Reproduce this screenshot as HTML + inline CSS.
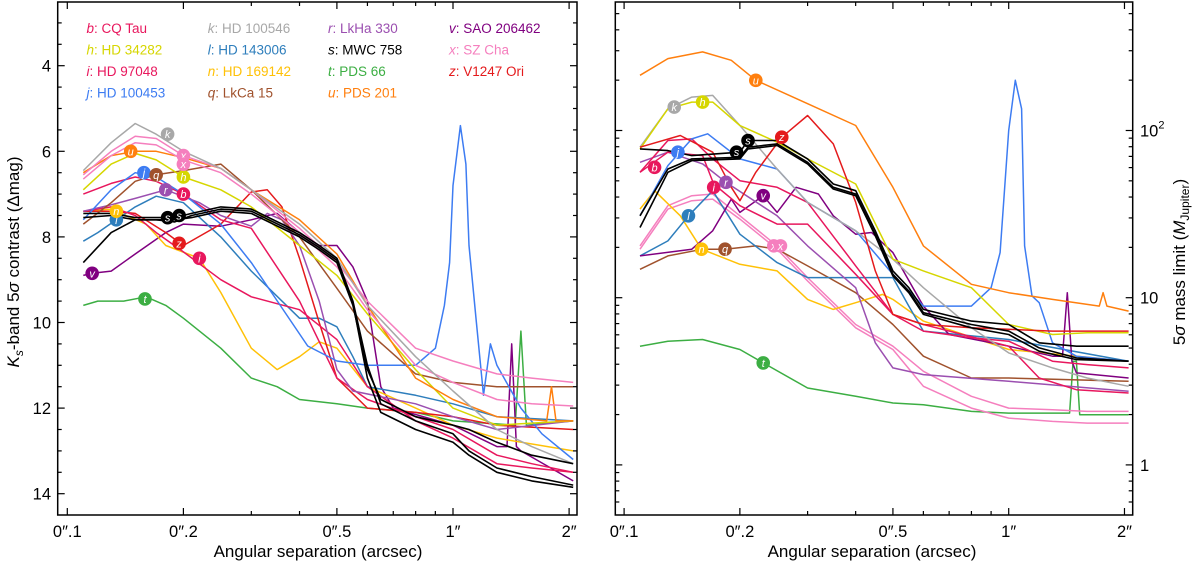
<!DOCTYPE html>
<html><head><meta charset="utf-8">
<style>
html,body{margin:0;padding:0;background:#fff;}
svg{display:block;font-family:"Liberation Sans","DejaVu Sans",sans-serif;}
</style></head>
<body>
<svg id="chart" width="1200" height="565" viewBox="0 0 1200 565" xmlns="http://www.w3.org/2000/svg">
<defs>
<clipPath id="clipL"><rect x="57.7" y="2" width="519.3" height="513"/></clipPath>
<clipPath id="clipR"><rect x="615.3" y="2" width="517.4" height="513"/></clipPath>
</defs>
<g id="left"></g>
<g id="right"></g>
</svg>
<script>
// ---------- Left panel data (Ks-band contrast, mag) ----------
const sepStd=[0.11,0.13,0.15,0.17,0.2,0.25,0.3,0.4,0.5,0.6,0.8,1.0,1.3,1.6,2.05];
const magK=[6.45,5.8,5.35,5.6,6.0,6.4,6.9,7.7,8.5,9.6,10.8,11.6,12.5,12.9,13.3];
const magX1=[6.55,6.0,5.65,5.7,6.1,6.4,6.9,7.8,8.6,9.5,10.6,10.9,11.2,11.3,11.4];
const magX2=[6.65,6.1,5.8,5.85,6.2,6.5,7.0,7.9,8.7,9.7,11.0,11.4,11.8,11.9,11.95];
const sepU=[0.11,0.13,0.15,0.17,0.2,0.25,0.3,0.4,0.5,0.6,0.8,1.0,1.3,1.75,1.8,1.85,2.05];
const magU=[6.5,6.1,6.0,6.0,6.15,6.4,6.9,7.6,8.4,9.6,11.3,11.8,12.2,12.3,11.5,12.3,12.3];
const magH=[6.9,6.3,6.05,6.2,6.6,6.9,7.3,8.2,8.9,9.8,11.1,12.0,12.4,12.35,12.3];
const sepJ=[0.11,0.13,0.15,0.17,0.2,0.25,0.3,0.42,0.5,0.6,0.8,0.9,0.95,0.98,1.0,1.045,1.08,1.1,1.15,1.2,1.25,1.3,1.5,1.7,2.05];
const magJ=[7.6,6.9,6.5,6.6,7.0,7.7,8.6,10.55,10.9,11.0,11.0,10.6,9.6,8.6,6.8,5.4,6.3,8.2,10.0,11.7,10.5,11.0,12.0,12.6,13.2];
const magQ=[7.7,7.2,6.7,6.55,6.45,6.3,6.9,8.0,9.2,10.2,11.2,11.4,11.5,11.5,11.5];
const sepR=[0.11,0.13,0.15,0.18,0.22,0.25,0.3,0.33,0.36,0.4,0.45,0.5,0.55,0.8,1.0,1.3,2.05];
const magR=[7.4,7.25,7.1,6.9,7.2,7.5,7.75,7.45,7.6,8.2,9.5,11.1,11.6,11.9,12.2,12.5,12.3];
const magB=[7.0,6.75,6.6,6.7,7.0,7.6,7.8,9.5,11.3,11.8,12.2,12.5,13.1,13.3,13.5];
const magI=[7.4,7.3,7.5,7.9,8.35,9.0,9.4,9.7,10.4,11.5,12.3,12.7,13.3,13.4,13.5];
const sepZ=[0.11,0.13,0.15,0.18,0.2,0.25,0.3,0.33,0.36,0.4,0.45,0.5,0.6,0.8,1.0,1.3,2.05];
const magZ=[7.4,7.4,7.45,7.9,8.2,7.7,6.95,6.9,7.3,8.5,10.0,11.3,12.0,12.1,12.2,12.4,12.5];
const sepS=[0.11,0.13,0.15,0.17,0.19,0.21,0.25,0.3,0.4,0.45,0.5,0.55,0.6,0.65,0.8,1.0,1.1,1.3,1.6,2.05];
const magS1=[7.45,7.45,7.55,7.55,7.55,7.45,7.3,7.35,7.9,8.2,8.5,9.5,11.0,11.9,12.3,12.6,13.0,13.4,13.6,13.8];
const magS2=[7.55,7.5,7.6,7.6,7.6,7.55,7.4,7.45,8.0,8.3,8.6,9.6,11.1,11.8,12.2,12.4,12.5,12.8,13.1,13.3];
const magS3=[8.6,7.9,7.6,7.6,7.65,7.5,7.35,7.4,7.95,8.25,8.55,9.55,11.3,12.1,12.5,12.8,13.1,13.5,13.7,13.85];
const sepL=[0.11,0.12,0.134,0.15,0.17,0.2,0.25,0.3,0.4,0.45,0.5,0.55,0.6,0.8,1.0,1.3,2.05];
const magL=[8.1,7.9,7.6,7.3,7.05,7.2,8.0,8.8,9.9,9.9,10.1,10.8,11.5,11.7,11.9,12.2,12.3];
const sepN=[0.11,0.13,0.16,0.18,0.22,0.25,0.3,0.35,0.4,0.45,0.5,0.6,0.8,1.0,1.3,2.05];
const magN=[7.4,7.35,7.7,8.2,8.5,9.3,10.6,11.1,10.8,10.45,10.6,11.5,12.0,12.4,12.7,13.0];
const sepV=[0.11,0.116,0.13,0.15,0.18,0.2,0.25,0.3,0.35,0.4,0.45,0.5,0.55,0.6,0.65,0.7,1.0,1.3,1.38,1.42,1.46,1.5,2.05];
const magV=[8.9,8.85,8.8,8.4,7.9,7.7,7.75,7.6,7.45,7.9,8.2,8.2,8.7,9.5,11.5,12.0,12.4,12.9,12.9,10.5,12.9,13.0,13.7];
const sepT=[0.11,0.12,0.14,0.16,0.18,0.2,0.25,0.3,0.35,0.4,0.5,0.6,0.8,1.0,1.45,1.5,1.55,2.05];
const magT=[9.6,9.5,9.5,9.4,9.6,9.9,10.6,11.3,11.5,11.8,11.9,12.0,12.1,12.3,12.4,10.2,12.4,12.3];
const labLetters=["b","h","i","j","k","l","n","q","r","s","s","t","u","v","x","x","z"];
const labSepL=[0.2,0.2,0.22,0.158,0.182,0.134,0.134,0.17,0.18,0.182,0.195,0.159,0.146,0.116,0.2,0.2,0.195];
const labMagL=[7.0,6.6,8.5,6.5,5.6,7.6,7.4,6.55,6.9,7.55,7.5,9.45,6.0,8.85,6.1,6.3,8.15];

// ---------- Right panel data (log10 mass limit, M_Jup) ----------
const rsepU=[0.11,0.13,0.16,0.19,0.22,0.3,0.4,0.5,0.6,0.8,1.0,1.3,1.72,1.76,1.8,2.05];
const lmU=[2.33,2.43,2.47,2.42,2.30,2.16,2.03,1.66,1.31,1.08,1.03,0.99,0.95,1.03,0.95,0.92];
const lmK=[1.90,2.13,2.20,2.21,2.03,1.77,1.57,1.40,1.23,1.06,0.82,0.67,0.58,0.52,0.47];
const lmH=[1.89,2.13,2.17,2.17,2.03,1.93,1.83,1.68,1.23,1.16,1.06,0.84,0.78,0.79,0.79];
const rsepJ=[0.11,0.13,0.15,0.165,0.2,0.25,0.3,0.4,0.5,0.6,0.8,0.9,0.95,1.0,1.04,1.08,1.1,1.15,1.2,1.3,1.5,2.05];
const lmJ=[1.49,1.79,1.95,1.98,1.83,1.77,1.57,1.40,1.14,0.95,0.95,1.06,1.27,2.00,2.30,2.13,1.31,1.01,0.97,0.73,0.65,0.62];
const rsepZ=[0.11,0.14,0.17,0.19,0.2,0.22,0.257,0.3,0.35,0.4,0.45,0.5,0.6,0.8,1.3,2.05];
const lmZ=[1.90,1.97,1.87,1.66,1.58,1.75,1.96,2.09,1.92,1.57,1.16,0.90,0.84,0.82,0.80,0.80];
const rsepS=[0.11,0.13,0.15,0.2,0.21,0.25,0.3,0.35,0.4,0.45,0.5,0.55,0.6,0.8,1.0,1.2,1.5,2.05];
const lmS1=[1.89,1.88,1.85,1.87,1.94,1.94,1.83,1.68,1.64,1.40,1.16,1.06,0.93,0.86,0.84,0.73,0.71,0.71];
const lmS2=[1.49,1.77,1.83,1.84,1.90,1.92,1.81,1.66,1.62,1.38,1.14,1.04,0.91,0.84,0.80,0.70,0.64,0.62];
const lmS3=[1.42,1.75,1.82,1.83,1.89,1.91,1.80,1.65,1.61,1.37,1.13,1.03,0.90,0.82,0.78,0.68,0.63,0.62];
const lmB=[1.75,1.94,1.95,1.83,1.70,1.66,1.57,1.19,0.90,0.80,0.76,0.74,0.62,0.60,0.58];
const rsepI=[0.11,0.13,0.16,0.171,0.2,0.25,0.3,0.4,0.5,0.6,1.0,1.2,1.5,2.05];
const lmI=[1.75,1.87,1.85,1.68,1.55,1.44,1.44,1.14,0.90,0.84,0.71,0.52,0.45,0.43];
const rsepR=[0.11,0.13,0.16,0.184,0.25,0.3,0.4,0.45,0.5,0.6,1.0,2.05];
const lmR=[1.81,1.87,1.80,1.69,1.49,1.31,1.06,0.73,0.58,0.54,0.50,0.44];
const rsepV=[0.11,0.15,0.17,0.19,0.2,0.23,0.25,0.28,0.32,0.35,0.4,0.44,0.5,0.6,0.7,1.0,1.3,1.38,1.42,1.46,1.5,2.05];
const lmV=[1.25,1.29,1.40,1.59,1.51,1.61,1.51,1.66,1.62,1.49,1.38,1.39,1.27,0.95,0.78,0.71,0.65,0.65,1.03,0.62,0.55,0.52];
const rsepL=[0.11,0.13,0.147,0.17,0.2,0.25,0.3,0.4,0.5,0.55,0.6,1.0,2.05];
const lmL=[1.25,1.34,1.49,1.64,1.38,1.21,1.12,1.12,1.12,0.95,0.80,0.75,0.62];
const lmX1=[1.31,1.55,1.61,1.62,1.49,1.31,1.12,0.84,0.71,0.56,0.41,0.34,0.33,0.32,0.32];
const lmX2=[1.29,1.53,1.58,1.59,1.47,1.29,1.10,0.82,0.69,0.47,0.34,0.28,0.26,0.25,0.25];
const rsepN=[0.11,0.12,0.14,0.159,0.2,0.25,0.3,0.35,0.4,0.47,0.5,0.6,1.0,2.05];
const lmN=[1.53,1.64,1.49,1.29,1.20,1.16,0.99,0.93,0.97,1.02,0.99,0.86,0.69,0.62];
const rsepQ=[0.11,0.13,0.16,0.183,0.22,0.25,0.3,0.4,0.5,0.6,0.8,1.0,2.05];
const lmQ=[1.17,1.25,1.29,1.29,1.31,1.29,1.19,1.03,0.84,0.65,0.52,0.52,0.50];
const rsepT=[0.11,0.13,0.16,0.2,0.23,0.3,0.4,0.5,0.6,0.8,1.0,1.44,1.47,1.5,1.53,2.05];
const lmT=[0.71,0.74,0.75,0.69,0.61,0.46,0.41,0.37,0.36,0.32,0.31,0.31,0.62,0.62,0.30,0.30];
const rlabLetters=["u","k","h","j","b","s","s","z","i","r","v","l","n","q","x","x","t"];
const rlabSep=[0.22,0.135,0.16,0.138,0.12,0.21,0.196,0.257,0.171,0.184,0.23,0.147,0.159,0.183,0.245,0.255,0.23];
const rlabLM=[2.30,2.14,2.17,1.87,1.78,1.94,1.87,1.96,1.66,1.69,1.61,1.49,1.29,1.29,1.31,1.31,0.61];

const legendLetters=["b","h","i","j","k","l","n","q","r","s","t","u","v","x","z"];
const legendNames=["CQ Tau","HD 34282","HD 97048","HD 100453","HD 100546","HD 143006","HD 169142","LkCa 15","LkHa 330","MWC 758","PDS 66","PDS 201","SAO 206462","SZ Cha","V1247 Ori"];

const COL={b:"#e8175d",h:"#d6d600",i:"#e8175d",j:"#3d7cf2",k:"#a8a8a8",l:"#2e7ebc",n:"#ffc107",q:"#a0522d",r:"#9b4fb0",s:"#000000",t:"#3cae43",u:"#ff7f0e",v:"#800080",x:"#f57fbe",z:"#e41a1c"};

const NS="http://www.w3.org/2000/svg";
function mk(tag,attrs,parent){const e=document.createElementNS(NS,tag);for(const k in attrs)e.setAttribute(k,attrs[k]);parent.appendChild(e);return e;}

// axis functions
const xL=s=>67.3+385.7*Math.log10(s/0.1);
const yL=m=>65.7+(m-4)*42.8;
const xR=s=>624.1+384.6*Math.log10(s/0.1);
const yR=lm=>130.5+(2-lm)*167.2;

const L=document.getElementById('left'), R=document.getElementById('right');

function drawSeries(parent,xs,ys,fx,fy,color,w,name,clip){
  const pts=xs.map((s,i)=>fx(s).toFixed(1)+","+fy(ys[i]).toFixed(1)).join(" ");
  const p=mk('polyline',{points:pts,fill:"none",stroke:color,"stroke-width":w,"stroke-linejoin":"round","clip-path":clip},parent);
  
  
}
function drawLabel(parent,letter,x,y){
  const g=mk('g',{},parent);
  
  
  mk('circle',{cx:x,cy:y,r:6.8,fill:COL[letter]},g);
  const t=mk('text',{x:x,y:y+4,"text-anchor":"middle","font-size":"11","font-style":"italic",fill:"#fff"},g);
  t.textContent=letter;
}

// left series
const sL="url(#clipL)";
drawSeries(L,sepT,magT,xL,yL,COL.t,1.5,'series-t',sL);
drawSeries(L,sepV,magV,xL,yL,COL.v,1.5,'series-v',sL);
drawSeries(L,sepN,magN,xL,yL,COL.n,1.5,'series-n',sL);
drawSeries(L,sepL,magL,xL,yL,COL.l,1.5,'series-l',sL);
drawSeries(L,sepZ,magZ,xL,yL,COL.z,1.5,'series-z',sL);
drawSeries(L,sepStd,magI,xL,yL,COL.i,1.5,'series-i',sL);
drawSeries(L,sepStd,magB,xL,yL,COL.b,1.5,'series-b',sL);
drawSeries(L,sepR,magR,xL,yL,COL.r,1.5,'series-r',sL);
drawSeries(L,sepStd,magQ,xL,yL,COL.q,1.5,'series-q',sL);
drawSeries(L,sepJ,magJ,xL,yL,COL.j,1.5,'series-j',sL);
drawSeries(L,sepStd,magH,xL,yL,COL.h,1.5,'series-h',sL);
drawSeries(L,sepU,magU,xL,yL,COL.u,1.5,'series-u',sL);
drawSeries(L,sepStd,magX1,xL,yL,COL.x,1.5,'series-x-1',sL);
drawSeries(L,sepStd,magX2,xL,yL,COL.x,1.5,'series-x-2',sL);
drawSeries(L,sepStd,magK,xL,yL,COL.k,1.5,'series-k',sL);
drawSeries(L,sepS,magS1,xL,yL,COL.s,1.6,'series-s-1',sL);
drawSeries(L,sepS,magS2,xL,yL,COL.s,1.6,'series-s-2',sL);
drawSeries(L,sepS,magS3,xL,yL,COL.s,1.6,'series-s-3',sL);
labLetters.forEach((c,i)=>drawLabel(L,c,xL(labSepL[i]),yL(labMagL[i])));

// right series
const sR="url(#clipR)";
drawSeries(R,rsepT,lmT,xR,yR,COL.t,1.5,'mass-series-t',sR);
drawSeries(R,sepStd,lmX1,xR,yR,COL.x,1.5,'mass-series-x-1',sR);
drawSeries(R,sepStd,lmX2,xR,yR,COL.x,1.5,'mass-series-x-2',sR);
drawSeries(R,rsepQ,lmQ,xR,yR,COL.q,1.5,'mass-series-q',sR);
drawSeries(R,rsepN,lmN,xR,yR,COL.n,1.5,'mass-series-n',sR);
drawSeries(R,rsepL,lmL,xR,yR,COL.l,1.5,'mass-series-l',sR);
drawSeries(R,rsepV,lmV,xR,yR,COL.v,1.5,'mass-series-v',sR);
drawSeries(R,rsepR,lmR,xR,yR,COL.r,1.5,'mass-series-r',sR);
drawSeries(R,rsepI,lmI,xR,yR,COL.i,1.5,'mass-series-i',sR);
drawSeries(R,sepStd,lmB,xR,yR,COL.b,1.5,'mass-series-b',sR);
drawSeries(R,rsepJ,lmJ,xR,yR,COL.j,1.5,'mass-series-j',sR);
drawSeries(R,sepStd,lmK,xR,yR,COL.k,1.5,'mass-series-k',sR);
drawSeries(R,sepStd,lmH,xR,yR,COL.h,1.5,'mass-series-h',sR);
drawSeries(R,rsepZ,lmZ,xR,yR,COL.z,1.5,'mass-series-z',sR);
drawSeries(R,rsepU,lmU,xR,yR,COL.u,1.5,'mass-series-u',sR);
drawSeries(R,rsepS,lmS1,xR,yR,COL.s,1.6,'mass-series-s-1',sR);
drawSeries(R,rsepS,lmS2,xR,yR,COL.s,1.6,'mass-series-s-2',sR);
drawSeries(R,rsepS,lmS3,xR,yR,COL.s,1.6,'mass-series-s-3',sR);
rlabLetters.forEach((c,i)=>drawLabel(R,c,xR(rlabSep[i]),yR(rlabLM[i])));

// frames, ticks
function frame(parent,x0,x1,y0,y1,name){
  const r=mk('rect',{x:x0,y:y0,width:x1-x0,height:y1-y0,fill:"none",stroke:"#000","stroke-width":1.5},parent);
  
  
}
function tick(parent,x1,y1,x2,y2){mk('line',{x1:x1,y1:y1,x2:x2,y2:y2,stroke:"#000","stroke-width":1.2},parent);}
const xMajor=[0.1,0.2,0.5,1,2], xMajorLab=["0\u2033.1","0\u2033.2","0\u2033.5","1\u2033","2\u2033"];
const xMinor=[0.3,0.4,0.6,0.7,0.8,0.9];
function xAxis(parent,fx,y0,y1,cx,name){
  xMajor.forEach((s,i)=>{const x=fx(s);tick(parent,x,y1,x,y1-7);tick(parent,x,y0,x,y0+7);
    const t=mk('text',{x:x,y:y1+22,"text-anchor":"middle","font-size":"16.5"},parent);t.textContent=xMajorLab[i];});
  xMinor.forEach(s=>{const x=fx(s);tick(parent,x,y1,x,y1-4);tick(parent,x,y0,x,y0+4);});
  const t=mk('text',{x:cx,y:557,"text-anchor":"middle","font-size":"17"},parent);
  
  
  t.textContent="Angular separation (arcsec)";
}
// left
frame(L,57.7,577,2,515,'contrast-plot-frame');
xAxis(L,xL,2,515,318,'contrast-x-axis-title');
for(let m=3;m<=14.5;m+=0.5){const y=yL(m);if(y<3||y>514)continue;const maj=(m%2===0);
  tick(L,57.7,y,57.7+(maj?7:4),y);tick(L,577,y,577-(maj?7:4),y);
  if(maj){const t=mk('text',{x:51,y:y+6,"text-anchor":"end","font-size":"16.5"},L);t.textContent=String(m);}}
const ylab=mk('text',{transform:"translate(19,262) rotate(-90)","text-anchor":"middle","font-size":"17"},L);


ylab.innerHTML='<tspan font-style="italic">K</tspan><tspan font-style="italic" font-size="12" dy="4">s</tspan><tspan dy="-4">-band 5</tspan><tspan font-style="italic">σ</tspan> contrast (Δmag)';
// legend
const legX=[86.5,207.7,328,449], legY=[33,54.5,76,97.5];
legendLetters.forEach((c,i)=>{
  const col=Math.floor(i/4), row=i%4;
  const t=mk('text',{x:legX[col],y:legY[row],"font-size":"13.5",fill:COL[c]},L);
  
  
  t.innerHTML='<tspan font-style="italic">'+c+'</tspan>: '+legendNames[i];
});
// right
frame(R,615.3,1132.7,2,515,'mass-plot-frame');
xAxis(R,xR,2,515,872,'mass-x-axis-title');
for(let d=-1;d<=2;d++){for(let k=1;k<=9;k++){const lm=d+Math.log10(k);const y=yR(lm);if(y<3||y>514)continue;const maj=(k===1);
  tick(R,615.3,y,615.3+(maj?7:4),y);tick(R,1132.7,y,1132.7-(maj?7:4),y);
  if(maj){const t=mk('text',{x:1140,y:y+6,"font-size":"16.5"},R);
    if(d===2)t.innerHTML='10<tspan font-size="11" dy="-8">2</tspan>';else t.textContent=String(Math.pow(10,d));}}}
const ylabR=mk('text',{transform:"translate(1185,262) rotate(-90)","text-anchor":"middle","font-size":"17"},R);


ylabR.innerHTML='5<tspan font-style="italic">σ</tspan> mass limit (<tspan font-style="italic">M</tspan><tspan font-size="12" dy="4">Jupiter</tspan><tspan dy="-4">)</tspan>';
</script>
</body></html>
